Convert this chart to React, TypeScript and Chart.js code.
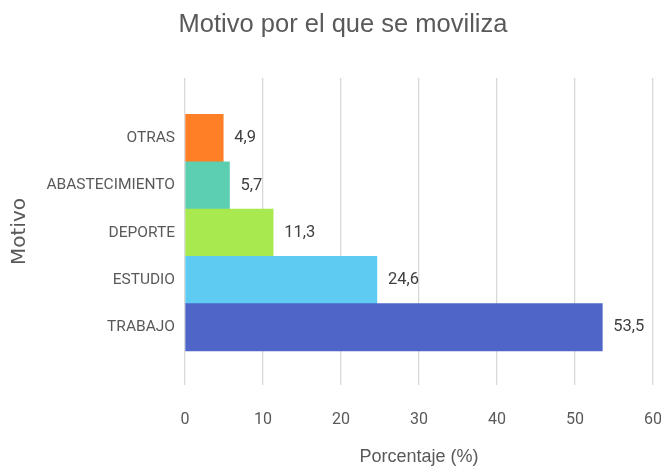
import { useEffect, useRef } from "react";
import { Chart, registerables } from "chart.js";

Chart.register(...registerables);

const categories = ["OTRAS", "ABASTECIMIENTO", "DEPORTE", "ESTUDIO", "TRABAJO"];
const values = [4.9, 5.7, 11.3, 24.6, 53.5];
const barColors = ["#FF7F27", "#5DCFB1", "#A8E94F", "#5ECBF3", "#4F66C8"];
const xTickValues = [0, 10, 20, 30, 40, 50, 60];

const titleText = "Motivo por el que se moviliza";
const xTitle = "Porcentaje (%)";
const yTitle = "Motivo";

const valueLabels = {
  id: "valueLabels",
  afterDatasetsDraw(chart: any) {
    const ctx = chart.ctx;
    const meta = chart.getDatasetMeta(0);
    ctx.save();
    ctx.font = '16.5px Roboto';
    ctx.fillStyle = "#404040";
    ctx.textAlign = "left";
    ctx.textBaseline = "middle";
    meta.data.forEach((bar: any, i: number) => {
      ctx.fillText(values[i].toFixed(1).replace(".", ","), bar.x + 11, bar.y);
    });
    ctx.restore();
  },
};

const chartTitle = {
  id: "chartTitle",
  afterDraw(chart: any) {
    const ctx = chart.ctx;
    ctx.save();
    ctx.font = '25.5px "Liberation Sans"';
    ctx.fillStyle = "#595959";
    ctx.textAlign = "center";
    ctx.textBaseline = "middle";
    ctx.fillText(titleText, 343, 25);
    ctx.restore();
  },
};

export default function App() {
  const ref = useRef<HTMLCanvasElement | null>(null);

  useEffect(() => {
    if (!ref.current) return;
    const chart = new Chart(ref.current, {
      type: "bar",
      data: {
        datasets: [
          {
            data: categories.map((c, i) => ({ x: values[i], y: i })),
            backgroundColor: barColors,
            borderWidth: 0,
            categoryPercentage: 1,
            barPercentage: 1,
          },
        ],
      },
      plugins: [valueLabels, chartTitle],
      options: {
        animation: false,
        responsive: true,
        maintainAspectRatio: false,
        indexAxis: "y",
        layout: {
          autoPadding: false,
          padding: { left: 0, right: 8, top: 78, bottom: 0 },
        },
        plugins: {
          legend: { display: false },
          tooltip: { enabled: false },
          title: { display: false },
        },
        scales: {
          x: {
            type: "linear",
            min: 0,
            max: 60,
            bounds: "data",
            afterFit: (s: any) => {
              s.height = 86;
              s.paddingLeft = 0;
              s.paddingRight = 0;
            },
            afterBuildTicks: (s: any) => {
              s.ticks = xTickValues.map((v) => ({ value: v }));
            },
            grid: { color: "#D9D9D9", lineWidth: 1.3, drawTicks: false },
            border: { display: false },
            ticks: {
              color: "#595959",
              font: { family: "Roboto", size: 16 },
              padding: 25,
              maxRotation: 0,
            },
            title: {
              display: true,
              text: xTitle,
              color: "#595959",
              font: { family: '"Liberation Sans"', size: 18, lineHeight: 1.2 },
              padding: { top: 0, bottom: 3 },
            },
          },
          y: {
            type: "linear",
            reverse: true,
            offset: false,
            bounds: "data",
            min: -1.27,
            max: 5.22,
            afterFit: (s: any) => {
              s.width = 185;
              s.paddingTop = 0;
              s.paddingBottom = 0;
            },
            afterBuildTicks: (s: any) => {
              s.ticks = categories.map((c, i) => ({ value: i }));
            },
            grid: { display: false, drawTicks: false, offset: false },
            border: { display: false },
            ticks: {
              autoSkip: false,
              color: "#595959",
              font: { family: "Roboto", size: 15.5 },
              padding: 10,
              callback: (v: any) => {
                const n = Number(v);
                return Number.isInteger(n) && n >= 0 && n < categories.length ? categories[n] : "";
              },
            },
            title: {
              display: true,
              text: yTitle,
              color: "#595959",
              font: { family: '"DejaVu Sans"', size: 20, lineHeight: 1.2 },
              padding: { top: 8, bottom: 0 },
            },
          },
        },
      } as any,
    });
    return () => chart.destroy();
  }, []);

  return (
    <div style={{ position: "fixed", left: 0, top: 0, width: 661, height: 471, background: "#fff" }}>
      <canvas ref={ref} />
    </div>
  );
}
